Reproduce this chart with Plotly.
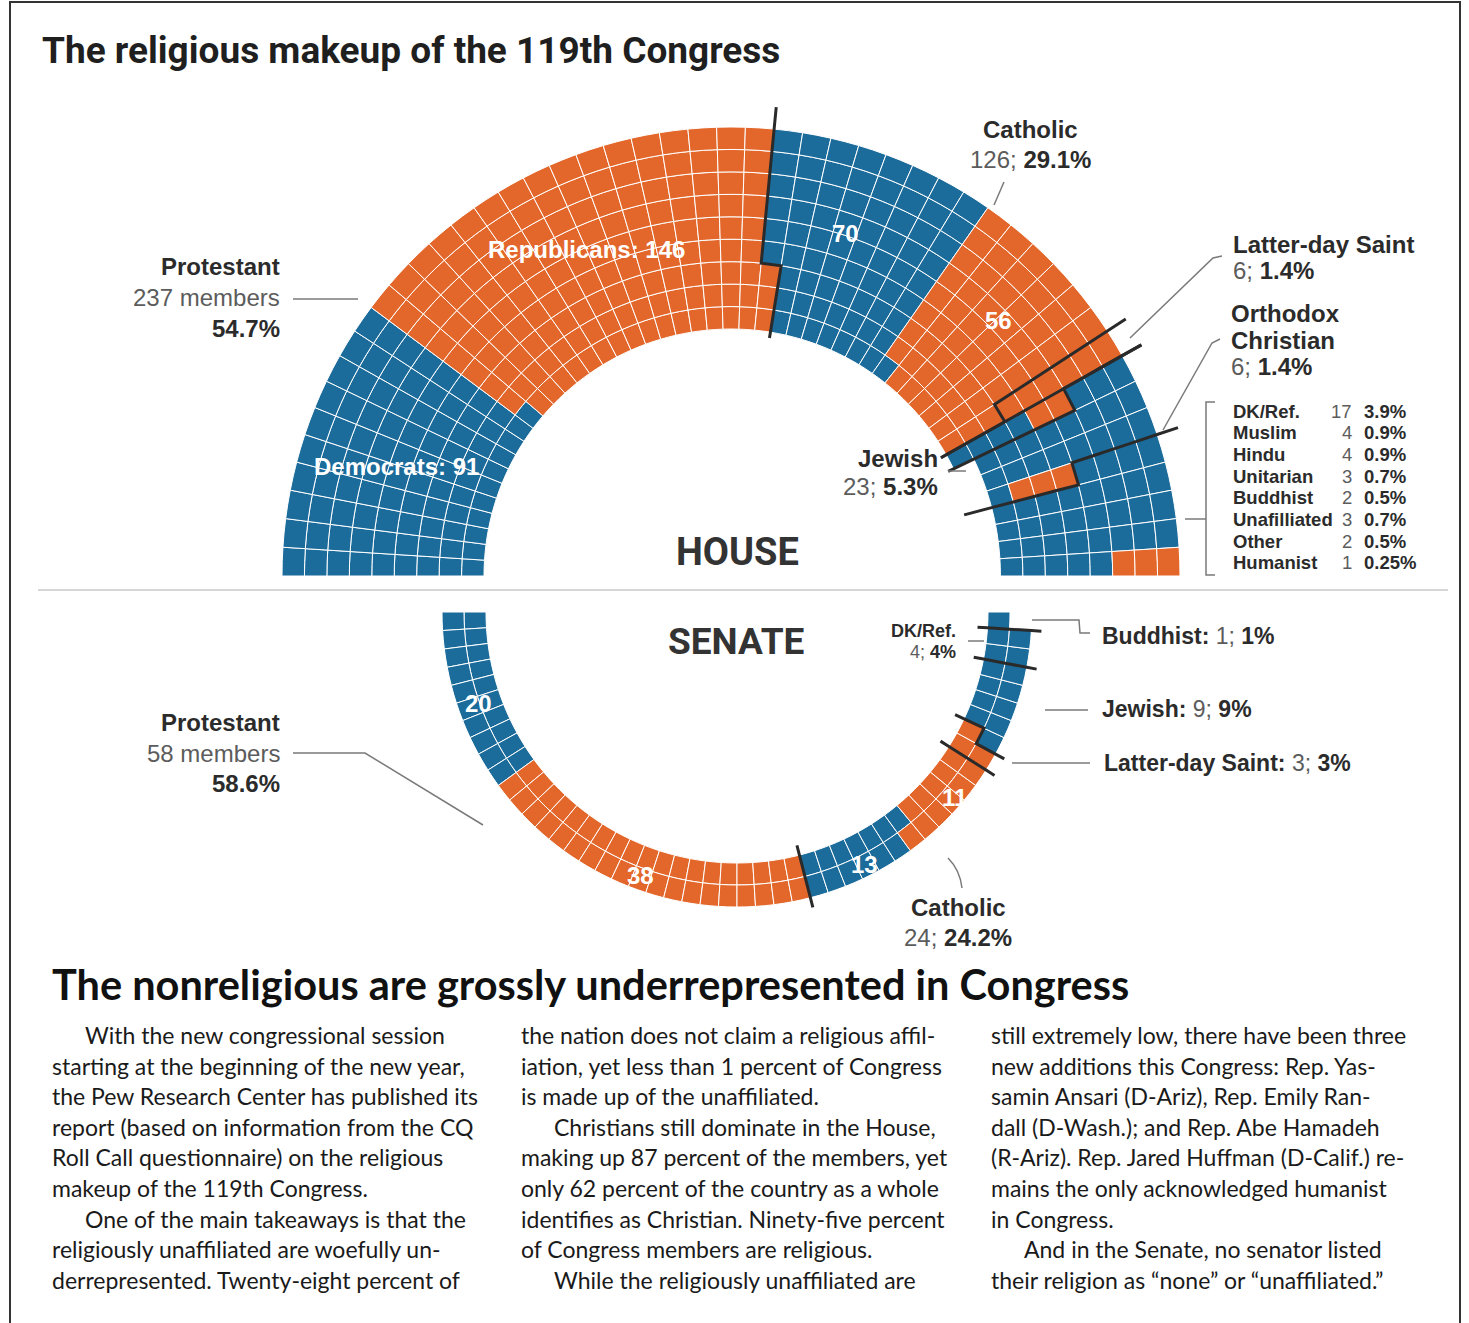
import numpy as np
import plotly.graph_objects as go

W, H = 1469, 1323
BLUE = "#1b6b9b"
ORANGE = "#e3672b"
DARK = "#2b2b2b"
GRAY = "#5c5c5c"
LINE = "#7a7a7a"
LBL = "Liberation Sans, Arial, sans-serif"
HEAD = "Roboto, Arial, sans-serif"
BODY = "Lato, Noto Sans, sans-serif"

# ---------------- data ----------------
house_religion = ["Protestant", "Protestant", "Catholic", "Catholic", "Latter-day Saint",
                  "Orthodox Christian", "Orthodox Christian", "Jewish", "Jewish",
                  "Other groups", "Other groups"]
house_party = ["D", "R", "D", "R", "R", "D", "R", "D", "R", "D", "R"]
house_seats = [91, 146, 70, 56, 6, 4, 2, 20, 3, 33, 3]

senate_religion = ["Protestant", "Protestant", "Catholic", "Catholic", "Latter-day Saint",
                   "Jewish", "DK/Ref.", "Buddhist"]
senate_party = ["D", "R", "D", "R", "R", "D", "D", "D"]
senate_seats = [20, 38, 13, 11, 3, 9, 4, 1]

other_names = ["DK/Ref.", "Muslim", "Hindu", "Unitarian", "Buddhist", "Unafilliated", "Other", "Humanist"]
other_counts = [17, 4, 4, 3, 2, 3, 2, 1]
other_pcts = ["3.9%", "0.9%", "0.9%", "0.7%", "0.5%", "0.7%", "0.5%", "0.25%"]

# ---------------- geometry (pixels) ----------------
H_CX, H_CY, H_RIN, H_ROUT, H_RINGS, H_RAX = 731, 576, 247, 449, 9, 477
S_CX, S_CY, S_RIN, S_ROUT, S_RINGS, S_RAX = 737, 612, 251, 295, 2, 317


def seat_layout(total, rings, skip_ring):
    """Columns of `rings` seats, filled inner -> outer; the last few columns
    drop one ring so that the count fits exactly."""
    ncol = -(-total // rings)
    missing = ncol * rings - total
    seats = []
    for q in range(ncol):
        for k in range(rings):
            if q >= ncol - missing and k == skip_ring:
                continue
            seats.append((q, k))
    return seats, ncol


def build(seats_list, party_list, religion_list, rings, rin, rout, sign, offset,
          subplot, ext_out, ext_in, skip_ring):
    seats, ncol = seat_layout(sum(seats_list), rings, skip_ring)
    t = (rout - rin) / rings
    w = 180.0 / ncol
    cells = {"D": ([], [], []), "R": ([], [], [])}
    idx = 0
    for cnt, p in zip(seats_list, party_list):
        for q, k in seats[idx: idx + cnt]:
            th, ba, rr = cells[p]
            th.append(offset + sign * (q + 0.5) * w)
            ba.append(rin + k * t)
            rr.append(t)
        idx += cnt
    traces = []
    for p, col in (("D", BLUE), ("R", ORANGE)):
        th, ba, rr = cells[p]
        traces.append(go.Barpolar(r=rr, theta=th, base=ba, width=[w] * len(th), subplot=subplot,
                                  marker=dict(color=col, line=dict(color="white", width=1)),
                                  hoverinfo="skip", showlegend=False))
    # religion separators, following the cell edges
    cum = 0
    bounds = []
    for i, cnt in enumerate(seats_list):
        cum += cnt
        if i + 1 < len(seats_list) and religion_list[i + 1] != religion_list[i]:
            bounds.append(cum)
    for c in bounds:
        q0, _ = seats[c]
        present = [k for (q, k) in seats if q == q0]
        filled = {k for (q, k) in seats[:c] if q == q0}
        b = []
        for k in range(rings):
            kk = k if k in present else min(present, key=lambda z: abs(z - k))
            b.append(offset + sign * ((q0 + 1) if kk in filled else q0) * w)
        rs, ths = [rout + ext_out], [b[-1]]
        for k in reversed(range(rings)):
            rs += [rin + (k + 1) * t, rin + k * t]
            ths += [b[k], b[k]]
        rs.append(rin - ext_in)
        ths.append(b[0])
        traces.append(go.Scatterpolar(r=rs, theta=ths, mode="lines", subplot=subplot,
                                      line=dict(color="#2a2a2a", width=3),
                                      hoverinfo="skip", showlegend=False))
    return traces


fig = go.Figure()
for tr in build(house_seats, house_party, house_religion, H_RINGS, H_RIN, H_ROUT,
                -1, 180, "polar", 22, 6, 0):
    fig.add_trace(tr)
for tr in build(senate_seats, senate_party, senate_religion, S_RINGS, S_RIN, S_ROUT,
                1, 180, "polar2", 10, 10, 1):
    fig.add_trace(tr)


def px_dom_x(a, b):
    return [a / W, b / W]


def px_dom_y(top, bottom):
    return [1 - bottom / H, 1 - top / H]


hidden_ang = dict(showline=False, showgrid=False, showticklabels=False, ticks="")
hidden_rad = dict(visible=False, showgrid=False, showline=False, showticklabels=False, ticks="")

fig.update_layout(
    width=W, height=H, margin=dict(l=0, r=0, t=0, b=0),
    paper_bgcolor="white", plot_bgcolor="white",
    xaxis=dict(range=[0, W], visible=False, domain=[0, 1], fixedrange=True),
    yaxis=dict(range=[H, 0], visible=False, domain=[0, 1], fixedrange=True),
    polar=dict(domain=dict(x=px_dom_x(H_CX - H_RAX, H_CX + H_RAX), y=px_dom_y(H_CY - H_RAX, H_CY)),
               sector=[0, 180], bgcolor="rgba(0,0,0,0)", barmode="overlay",
               radialaxis=dict(range=[0, H_RAX], **hidden_rad), angularaxis=hidden_ang),
    polar2=dict(domain=dict(x=px_dom_x(S_CX - S_RAX, S_CX + S_RAX), y=px_dom_y(S_CY, S_CY + S_RAX)),
                sector=[180, 360], bgcolor="rgba(0,0,0,0)", barmode="overlay",
                radialaxis=dict(range=[0, S_RAX], **hidden_rad), angularaxis=hidden_ang),
)
fig.add_trace(go.Scatter(x=[0], y=[0], mode="markers", marker=dict(opacity=0),
                         hoverinfo="skip", showlegend=False))

ann = []


def A(x, y, text, size=24, color=DARK, anchor="left", font=LBL):
    ann.append(dict(x=x, y=y, xref="x", yref="y", text=text, showarrow=False,
                    xanchor=anchor, yanchor="middle",
                    font=dict(size=size, color=color, family=font)))


def g(s):
    return f"<span style='color:{GRAY}'>{s}</span>"


# title
A(40, 50, "<b>The religious makeup of the 119th Congress</b>", 37, "#1f1f1f", font=HEAD)

# House labels
A(282, 266, "<b>Protestant</b>", 24, anchor="right")
A(282, 297, "237 members", 24, GRAY, "right")
A(282, 328, "<b>54.7%</b>", 24, anchor="right")
A(1030, 129, "<b>Catholic</b>", 24, anchor="center")
A(1030, 159, g("126;") + " <b>29.1%</b>", 24, anchor="center")
A(1231, 244, "<b>Latter-day Saint</b>", 24)
A(1231, 270, g("6;") + " <b>1.4%</b>", 24)
A(1229, 313, "<b>Orthodox</b>", 24)
A(1229, 340, "<b>Christian</b>", 24)
A(1229, 366, g("6;") + " <b>1.4%</b>", 24)
A(940, 458, "<b>Jewish</b>", 24, anchor="right")
A(940, 486, g("23;") + " <b>5.3%</b>", 24, anchor="right")
A(737, 552, "<b>HOUSE</b>", 38, "#333333", "center", HEAD)

for i, (nm, ct, pc) in enumerate(zip(other_names, other_counts, other_pcts)):
    y = 411 + i * 21.7
    A(1231, y, f"<b>{nm}</b>", 18.5)
    A(1354, y, str(ct), 18.5, GRAY, "right")
    A(1362, y, f"<b>{pc}</b>", 18.5)

# white in-bar labels
for x, y, t in [(586, 249, "Republicans: 146"), (396, 466, "Democrats: 91"), (845, 233, "70"),
                (998, 320, "56"), (478, 703, "20"), (640, 875, "38"), (864, 864, "13"),
                (954, 797, "11")]:
    A(x, y, f"<b>{t}</b>", 24, "white", "center")

# Senate labels
A(736, 641, "<b>SENATE</b>", 37, "#333333", "center", HEAD)
A(282, 722, "<b>Protestant</b>", 24, anchor="right")
A(282, 753, "58 members", 24, GRAY, "right")
A(282, 783, "<b>58.6%</b>", 24, anchor="right")
A(958, 907, "<b>Catholic</b>", 24, anchor="center")
A(958, 937, g("24;") + " <b>24.2%</b>", 24, anchor="center")
A(958, 631, "<b>DK/Ref.</b>", 18, anchor="right")
A(958, 652, g("4;") + " <b>4%</b>", 18, anchor="right")
A(1100, 636, "<b>Buddhist:</b> " + g("1;") + " <b>1%</b>", 23)
A(1100, 709, "<b>Jewish:</b> " + g("9;") + " <b>9%</b>", 23)
A(1102, 763, "<b>Latter-day Saint:</b> " + g("3;") + " <b>3%</b>", 23)

# headline and body
A(50, 984, "<b>The nonreligious are grossly underrepresented in Congress</b>", 41.5, "#111111", font=BODY)

col1 = ["With the new congressional session", "starting at the beginning of the new year,",
        "the Pew Research Center has published its", "report (based on information from the CQ",
        "Roll Call questionnaire) on the religious", "makeup of the 119th Congress.",
        "One of the main takeaways is that the", "religiously unaffiliated are woefully un-",
        "derrepresented. Twenty-eight percent of"]
col2 = ["the nation does not claim a religious affil-", "iation, yet less than 1 percent of Congress",
        "is made up of the unaffiliated.", "Christians still dominate in the House,",
        "making up 87 percent of the members, yet", "only 62 percent of the country as a whole",
        "identifies as Christian. Ninety-five percent", "of Congress members are religious.",
        "While the religiously unaffiliated are"]
col3 = ["still extremely low, there have been three", "new additions this Congress: Rep. Yas-",
        "samin Ansari (D-Ariz), Rep. Emily Ran-", "dall (D-Wash.); and Rep. Abe Hamadeh",
        "(R-Ariz). Rep. Jared Huffman (D-Calif.) re-", "mains the only acknowledged humanist",
        "in Congress.", "And in the Senate, no senator listed",
        "their religion as “none” or “unaffiliated.”"]
indents = {(0, 0), (0, 6), (1, 3), (1, 8), (2, 7)}
for ci, (x0, lines) in enumerate([(50, col1), (519, col2), (989, col3)]):
    for li, line in enumerate(lines):
        x = x0 + (33 if (ci, li) in indents else 0)
        A(x, 1035 + li * 30.6, line, 23, "#1a1a1a", font=BODY)

shapes = []


def P(path, color=LINE, width=1.5):
    shapes.append(dict(type="path", path=path, xref="x", yref="y",
                       line=dict(color=color, width=width)))


P("M293,299 L358,299")
P("M1004,182 L994,205")
P("M1222,256 L1213,258 L1130,338")
P("M1220,339 L1212,343 L1163,430")
P("M948,471 L966,471")
P("M1215,402 L1206,402 L1206,575 L1215,575")
P("M1185,519 L1206,519")
P("M293,753 L365,753 L483,825")
P("M948,858 Q960,870 962,888")
P("M968,641 L984,641")
P("M1032,620 L1079,620 L1080,633 L1090,633")
P("M1045,710 L1088,710")
P("M1012,763 L1090,763")
P("M38,590 L1448,590", "#d6d6d6", 2)
shapes.append(dict(type="rect", x0=10, y0=2, x1=1460, y1=1340, xref="x", yref="y",
                   line=dict(color="#333333", width=2)))

fig.update_layout(annotations=ann, shapes=shapes)
fig.write_html("out.html", config={"displayModeBar": False},
               post_script="document.body.style.margin='0';")
